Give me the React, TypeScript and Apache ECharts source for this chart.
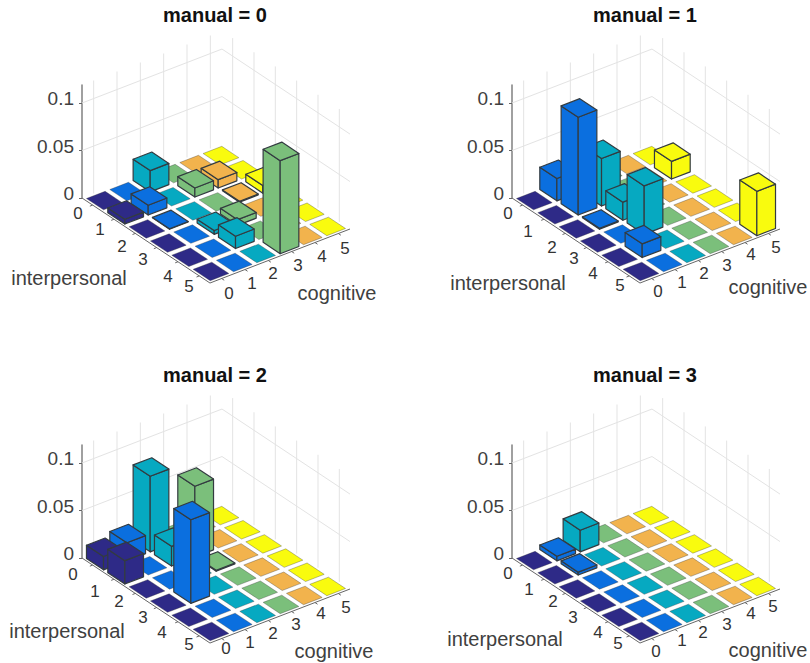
import React, { useEffect, useRef } from "react";
import * as echarts from "echarts";

const cognitiveLevels = ["0", "1", "2", "3", "4", "5"];
const interpersonalLevels = ["0", "1", "2", "3", "4", "5"];
const zTicks = [0, 0.05, 0.1];
const panelTitles = ["manual = 0", "manual = 1", "manual = 2", "manual = 3"];
const columnColors = ["#2e2a87", "#0b6fdf", "#06a9c1", "#7bbf7b", "#f2b34d", "#f9fb0e"];

// rows: interpersonal 0..5, columns: cognitive 0..5
const manual0 = [
  [0, 0, 0.0224, 0, 0, 0],
  [0.005, 0.0103, 0, 0.0095, 0.0088, 0],
  [0, 0.0005, 0, 0, 0.001, 0.008],
  [0, 0, 0.004, 0.006, 0, 0],
  [0, 0, 0.013, 0, 0, 0],
  [0, 0, 0, 0.098, 0, 0],
];
const manual1 = [
  [0, 0.0235, 0, 0, 0, 0],
  [0, 0.103, 0.05, 0, 0, 0.0186],
  [0, 0.001, 0.019, 0, 0, 0],
  [0, 0, 0.051, 0, 0, 0],
  [0, 0.0144, 0, 0, 0, 0],
  [0, 0, 0, 0, 0, 0.0467],
];
const manual2 = [
  [0.014, 0.019, 0.0796, 0, 0, 0],
  [0.0246, 0, 0.0207, 0.0745, 0, 0],
  [0, 0, 0, 0.001, 0, 0],
  [0, 0.088, 0, 0, 0, 0],
  [0, 0, 0, 0, 0, 0],
  [0, 0, 0, 0, 0, 0],
];
const manual3 = [
  [0, 0.0048, 0.0228, 0, 0, 0],
  [0, 0.003, 0, 0, 0, 0],
  [0, 0, 0, 0, 0, 0],
  [0, 0, 0, 0, 0, 0],
  [0, 0, 0, 0, 0, 0],
  [0, 0, 0, 0, 0, 0],
];
const panels = [manual0, manual1, manual2, manual3];

// layout (pixels)
const panelOffsets = [[0, 0], [430, 0], [0, 360], [430, 360]];
const AX_LEFT = 82, AX_BASE = 198, AX_W = 140, AX_H = 113, Z_MAX = 0.119;
const I_DX = 21.33, I_DY = 14.17, J_DY = -9;
const BAR = 0.4;
const iLabelPos = [
  [[78, 213], [100, 229], [122, 246], [143, 259], [168, 276], [189, 286]],
  [[78, 213], [98, 231], [122, 247], [144, 258], [163, 273], [190, 285]],
  [[73, 214], [95, 231], [119, 241], [143, 257], [162, 272], [189, 284]],
  [[78, 213], [99, 229], [123, 241], [143, 257], [168, 272], [188, 283]],
];
const jLabelPos = [
  [[229, 293], [252, 283], [273, 273], [298, 265], [322, 256], [345, 248]],
  [[228, 291], [252, 282], [274, 273], [297, 265], [321, 254], [346, 247]],
  [[226, 288], [250, 282], [273, 273], [296, 264], [321, 253], [346, 247]],
  [[226, 291], [252, 280], [273, 272], [297, 264], [321, 253], [343, 246]],
];
const iTitlePos = [[69, 278], [78, 283], [67, 271], [75, 279]];
const jTitlePos = [[337, 293], [338, 287], [334, 291], [338, 290]];

const project = (api: any, i: number, j: number, z: number) => {
  const c = api.coord([j, z]);
  return [c[0] + (i + 0.5) * I_DX, c[1] + (i + 0.5) * I_DY + (j + 0.5) * J_DY];
};

const poly = (points: number[][], fill: string, stroke: string, lineWidth: number) => ({
  type: "polygon",
  shape: { points },
  style: { fill, stroke, lineWidth, lineJoin: "round" },
});
const seg = (a: number[], b: number[], stroke: string, lineWidth: number) => ({
  type: "line",
  shape: { x1: a[0], y1: a[1], x2: b[0], y2: b[1] },
  style: { stroke, lineWidth },
});

const renderBar = (_p: any, api: any) => {
  const j = api.value(0), z = api.value(1), i = api.value(2);
  const fill = columnColors[j];
  const i0 = i - BAR, i1 = i + BAR, j0 = j - BAR, j1 = j + BAR;
  const P = (a: number, b: number, h: number) => project(api, a, b, h);
  if (z === 0) {
    return {
      type: "group",
      children: [poly([P(i0, j0, 0), P(i1, j0, 0), P(i1, j1, 0), P(i0, j1, 0)], fill, "rgba(50,50,50,0.55)", 0.6)],
    };
  }
  const edge = "#333b40";
  return {
    type: "group",
    children: [
      poly([P(i0, j0, 0), P(i1, j0, 0), P(i1, j0, z), P(i0, j0, z)], fill, edge, 1.2),
      poly([P(i1, j0, 0), P(i1, j1, 0), P(i1, j1, z), P(i1, j0, z)], fill, edge, 1.2),
      poly([P(i0, j0, z), P(i1, j0, z), P(i1, j1, z), P(i0, j1, z)], fill, edge, 1.2),
    ],
  };
};

const renderFrame = (_p: any, api: any) => {
  const grid = "#e3e3e3", axis = "#666666";
  const lo = -0.5, hi = 5.5;
  const children: any[] = [];
  cognitiveLevels.forEach((_, j) => children.push(seg(project(api, lo, j, 0), project(api, lo, j, Z_MAX), grid, 1)));
  interpersonalLevels.forEach((_, i) => children.push(seg(project(api, i, hi, 0), project(api, i, hi, Z_MAX), grid, 1)));
  zTicks.slice(1).forEach((z) => {
    children.push(seg(project(api, lo, lo, z), project(api, lo, hi, z), grid, 1));
    children.push(seg(project(api, lo, hi, z), project(api, hi, hi, z), grid, 1));
  });
  children.push(seg(project(api, lo, lo, 0), project(api, hi, lo, 0), axis, 1));
  children.push(seg(project(api, hi, lo, 0), project(api, hi, hi, 0), axis, 1));
  interpersonalLevels.forEach((_, i) => children.push(seg(project(api, i, lo, 0), project(api, i, lo - 0.12, 0), axis, 1)));
  cognitiveLevels.forEach((_, j) => children.push(seg(project(api, hi, j, 0), project(api, hi + 0.12, j, 0), axis, 1)));
  return { type: "group", children };
};

const buildOption = () => {
  const grids: any[] = [], xAxes: any[] = [], yAxes: any[] = [], series: any[] = [], titles: any[] = [], graphics: any[] = [];
  const labelFont = { fontFamily: "Liberation Sans", fill: "#404040" };
  panels.forEach((values, p) => {
    const [ox, oy] = panelOffsets[p];
    grids.push({ left: AX_LEFT + ox, top: AX_BASE - AX_H + oy, width: AX_W, height: AX_H });
    xAxes.push({ type: "value", gridIndex: p, min: -0.5, max: 5.5, show: false });
    yAxes.push({
      type: "value",
      gridIndex: p,
      min: 0,
      max: Z_MAX,
      splitLine: { show: false },
      axisLine: { show: true, onZero: false, lineStyle: { color: "#808080", width: 1.5 } },
      axisTick: { show: true, length: 3, customValues: zTicks, lineStyle: { color: "#666666" } },
      axisLabel: {
        customValues: zTicks,
        formatter: (v: number) => String(v),
        fontFamily: "Liberation Sans",
        fontSize: 19,
        color: "#404040",
        margin: 8,
        verticalAlign: "bottom",
        lineHeight: 9,
      },
    });
    titles.push({
      text: panelTitles[p],
      left: 210 + ox,
      top: 0 + oy,
      textAlign: "center",
      textStyle: { fontFamily: "Liberation Sans", fontSize: 20, fontWeight: "bold", color: "#111111" },
    });
    series.push({
      type: "custom",
      xAxisIndex: p,
      yAxisIndex: p,
      clip: false,
      silent: true,
      z: 1,
      data: [[0]],
      renderItem: renderFrame,
    });
    const cells: number[][] = [];
    values.forEach((row, i) => row.forEach((z, j) => cells.push([j, z, i])));
    cells.sort((a, b) => a[2] - a[0] - (b[2] - b[0]));
    series.push({
      type: "custom",
      xAxisIndex: p,
      yAxisIndex: p,
      clip: false,
      silent: true,
      z: 2,
      data: cells,
      renderItem: renderBar,
    });
    interpersonalLevels.forEach((t, k) => {
      const [x, y] = iLabelPos[p][k];
      graphics.push({ type: "text", x: x + ox, y: y + oy, style: { ...labelFont, text: t, fontSize: 17, fill: "#333333", textAlign: "center", textVerticalAlign: "middle" } });
    });
    cognitiveLevels.forEach((t, k) => {
      const [x, y] = jLabelPos[p][k];
      graphics.push({ type: "text", x: x + ox, y: y + oy, style: { ...labelFont, text: t, fontSize: 17, fill: "#333333", textAlign: "center", textVerticalAlign: "middle" } });
    });
    graphics.push({ type: "text", x: iTitlePos[p][0] + ox, y: iTitlePos[p][1] + oy, style: { ...labelFont, text: "interpersonal", fontSize: 20, textAlign: "center", textVerticalAlign: "middle" } });
    graphics.push({ type: "text", x: jTitlePos[p][0] + ox, y: jTitlePos[p][1] + oy, style: { ...labelFont, text: "cognitive", fontSize: 20, textAlign: "center", textVerticalAlign: "middle" } });
  });
  return {
    animation: false,
    backgroundColor: "#ffffff",
    title: titles,
    grid: grids,
    xAxis: xAxes,
    yAxis: yAxes,
    series,
    graphic: graphics,
  };
};

export default function App() {
  const ref = useRef<HTMLDivElement>(null);
  useEffect(() => {
    document.body.style.margin = "0";
    const chart = echarts.init(ref.current!, undefined, { renderer: "svg" });
    chart.setOption(buildOption() as any);
    return () => chart.dispose();
  }, []);
  return <div ref={ref} style={{ width: 810, height: 663 }} />;
}
